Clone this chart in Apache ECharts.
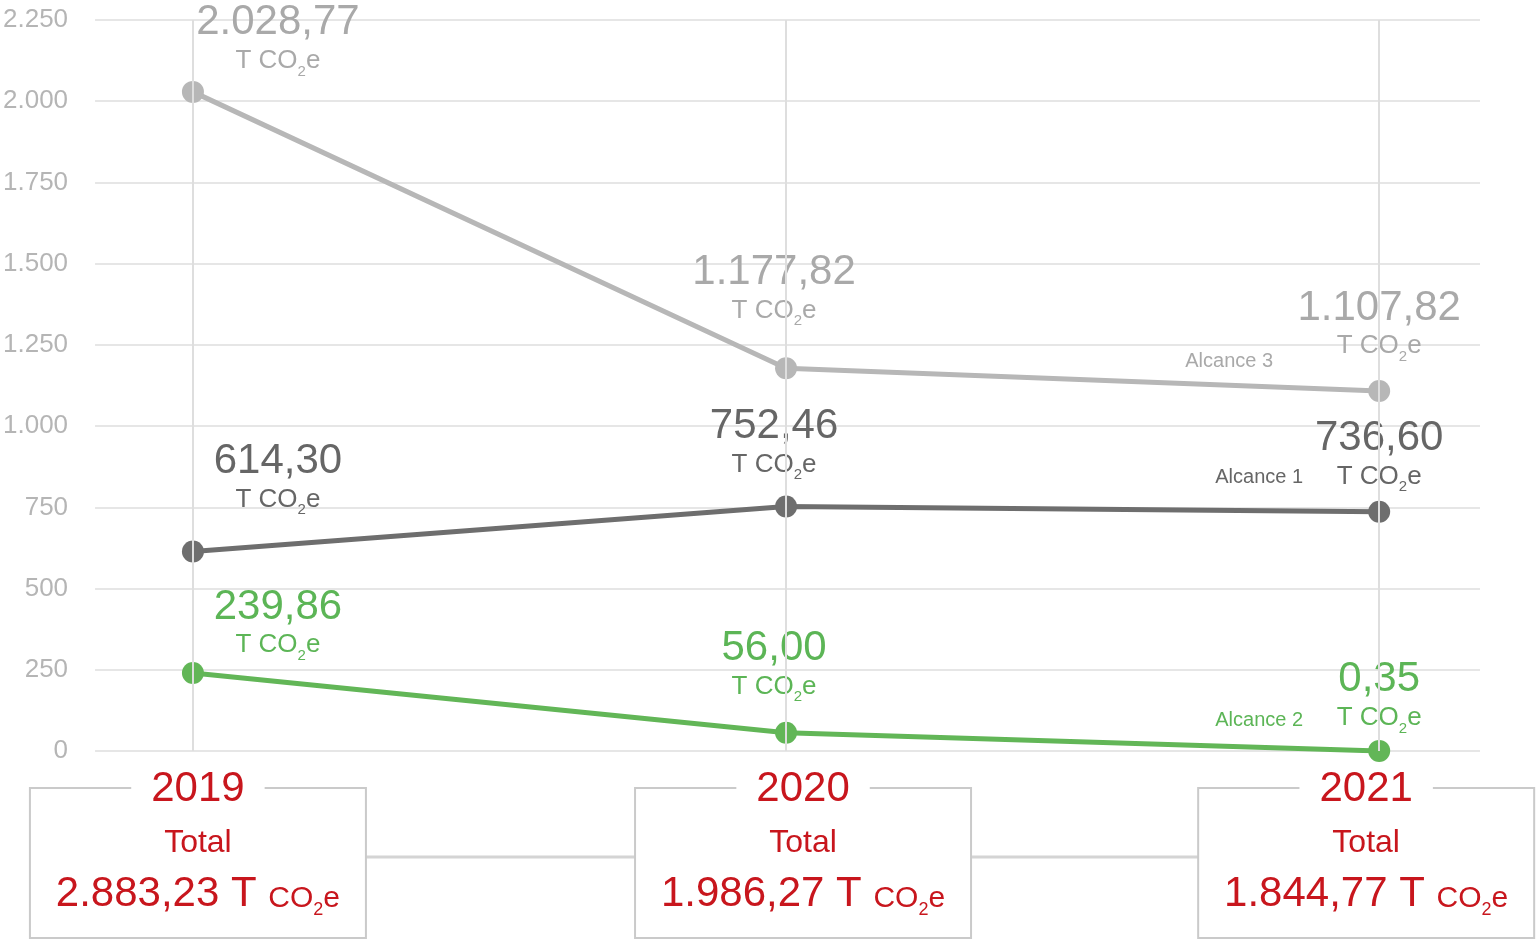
<!DOCTYPE html>
<html><head><meta charset="utf-8">
<script src="https://cdn.jsdelivr.net/npm/echarts@6/dist/echarts.min.js"></script>
<style>html,body{margin:0;padding:0;background:#fff}#c{width:1536px;height:941px}</style>
</head><body><div id="c"></div>
<script>
// ---- data ----
const years = [2019, 2020, 2021];
const seriesNames = ['Alcance 3', 'Alcance 1', 'Alcance 2'];
const alcance3 = [2028.77, 1177.82, 1107.82];
const alcance1 = [614.30, 752.46, 736.60];
const alcance2 = [239.86, 56.00, 0.35];
const totals = [2883.23, 1986.27, 1844.77];
const yMin = 0, yMax = 2250, yStep = 250;

// ---- layout / style (not data) ----
const FONT = "'Liberation Sans', Arial, sans-serif";
const RED = '#c8161d';
const colors = { line: ['#b7b7b7', '#6e6e6e', '#62b657'], text: ['#a9a9a9', '#666666', '#5cb556'] };
const labelDx = [85, -12, 0];
const labelDy = [[3, -24, -11], [-18, -8, -1], [6, -12, 1]];
const nameOffset = [[-150, -30], [-120, -34], [-120, -30]];
const boxShift = [5, 17, -13];

function fmt(v, dec) {
  const s = v.toFixed(dec);
  let [i, d] = s.split('.');
  i = i.replace(/\B(?=(\d{3})+(?!\d))/g, '.');
  return d ? i + ',' + d : i;
}

const chart = echarts.init(document.getElementById('c'), null, { renderer: 'canvas' });

function makeSeries(idx, values) {
  const col = colors.text[idx];
  return {
    name: seriesNames[idx],
    type: 'line',
    z: 3,
    symbol: 'circle',
    symbolSize: 22,
    lineStyle: { width: 5, color: colors.line[idx] },
    itemStyle: { color: colors.line[idx] },
    data: values.map((v, i) => ({
      value: [years[i], v],
      label: { offset: [labelDx[i], labelDy[idx][i]] }
    })),
    label: {
      show: true,
      position: 'top',
      distance: 5,
      align: 'center',
      formatter: p => '{v|' + fmt(p.value[1], 2) + '}\n{u|T CO}{s|2}{u|e}',
      rich: {
        v: { fontFamily: FONT, fontSize: 42, lineHeight: 40, color: col, align: 'center' },
        u: { fontFamily: FONT, fontSize: 26, lineHeight: 36, color: col },
        s: { fontFamily: FONT, fontSize: 15, color: col, verticalAlign: 'bottom' }
      }
    },
    endLabel: {
      show: true,
      formatter: seriesNames[idx],
      fontFamily: FONT,
      fontSize: 20,
      color: col,
      align: 'center',
      verticalAlign: 'middle',
      distance: 0,
      offset: nameOffset[idx]
    }
  };
}

const option = {
  animation: false,
  backgroundColor: '#ffffff',
  grid: { left: 95, right: 56, top: 20, bottom: 190, containLabel: false },
  xAxis: {
    type: 'value',
    min: 2018.835,
    max: 2021.17,
    show: false,
    splitLine: { show: false }
  },
  yAxis: {
    type: 'value',
    min: yMin, max: yMax, interval: yStep,
    axisLine: { show: false },
    axisTick: { show: false },
    axisLabel: {
      margin: 27,
      fontFamily: FONT, fontSize: 26, color: '#b5b5b5',
      formatter: v => fmt(v, 0)
    },
    splitLine: { lineStyle: { color: '#e6e6e6', width: 2 } }
  },
  series: [
    {
      type: 'line', z: 1, data: [], silent: true,
      markLine: {
        silent: true, symbol: 'none', label: { show: false },
        lineStyle: { color: '#dedede', width: 2, type: 'solid' },
        data: years.map(y => ({ xAxis: y }))
      }
    },
    makeSeries(0, alcance3),
    makeSeries(1, alcance1),
    makeSeries(2, alcance2)
  ]
};
chart.setOption(option);

// ---- bottom "Total" boxes, anchored to the year positions on the x scale ----
const y0 = chart.convertToPixel({ yAxisIndex: 0 }, 0);
const boxTop = y0 + 37, boxW = 336, boxH = 150;
const centers = years.map((y, i) => chart.convertToPixel({ xAxisIndex: 0 }, y) + boxShift[i]);
const graphics = [];
graphics.push({
  type: 'line', z: 1,
  shape: { x1: centers[0], y1: boxTop + 69, x2: centers[2], y2: boxTop + 69 },
  style: { stroke: '#d4d4d4', lineWidth: 3 }
});
years.forEach((yr, i) => {
  const cx = centers[i];
  graphics.push({
    type: 'rect', z: 2,
    shape: { x: cx - boxW / 2, y: boxTop, width: boxW, height: boxH },
    style: { fill: '#ffffff', stroke: '#cacaca', lineWidth: 2 }
  });
  graphics.push({
    type: 'text', z: 3, x: cx, y: boxTop + 1,
    style: {
      text: String(yr), fill: RED, font: '42px ' + FONT,
      align: 'center', verticalAlign: 'middle',
      backgroundColor: '#ffffff', padding: [0, 20]
    }
  });
  graphics.push({
    type: 'text', z: 3, x: cx, y: boxTop + 29,
    style: {
      text: '{t|Total}\n{n|' + fmt(totals[i], 2) + ' T }{c|CO}{s|2}{c|e}',
      align: 'center', verticalAlign: 'top',
      rich: {
        t: { fontFamily: FONT, fontSize: 32, lineHeight: 52, fill: RED, align: 'center' },
        n: { fontFamily: FONT, fontSize: 42, lineHeight: 50, fill: RED },
        c: { fontFamily: FONT, fontSize: 30, fill: RED, padding: [9, 0, 0, 0] },
        s: { fontFamily: FONT, fontSize: 18, fill: RED, verticalAlign: 'bottom' }
      }
    }
  });
});
chart.setOption({ graphic: graphics });
</script>
</body></html>
